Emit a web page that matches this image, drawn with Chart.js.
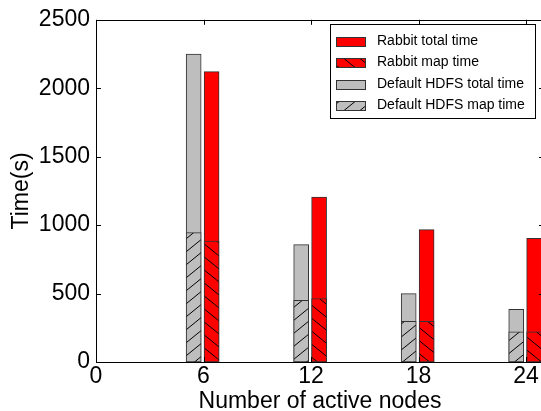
<!DOCTYPE html>
<html>
<head>
<meta charset="utf-8">
<script src="https://cdn.jsdelivr.net/npm/chart.js@4.4.0/dist/chart.umd.min.js"></script>
<style>
  html, body { margin: 0; padding: 0; background: #fff; overflow: hidden; }
  #wrap { width: 541px; height: 411px; overflow: hidden; }
</style>
</head>
<body>
<div id="wrap"><canvas id="timeChart" width="560" height="411"></canvas></div>
<script>
const nodes = [6, 12, 18, 24];
const xTicks = [0, 6, 12, 18, 24];
const yTicks = [0, 500, 1000, 1500, 2000, 2500];
const rabbitTotal = [2121, 1205, 967, 904];
const rabbitMap = [884, 464, 297, 221];
const hdfsTotal = [2250, 858, 500, 384];
const hdfsMap = [945, 450, 297, 221];

const FONT = '"Liberation Sans", Arial, Helvetica, sans-serif';
const GRAY = '#bebebe';
const RED = '#ff0000';

const ctx = document.getElementById('timeChart').getContext('2d');

// hatched fill for the "map time" bars
function hatch(bg, dir) {
  const w = 16, h = 13;
  const c = document.createElement('canvas');
  c.width = w; c.height = h;
  const g = c.getContext('2d');
  g.fillStyle = bg;
  g.fillRect(0, 0, w, h);
  g.strokeStyle = '#000';
  g.lineWidth = 1;
  for (let k = -1; k <= 1; k++) {
    g.beginPath();
    if (dir === '/') { g.moveTo(0, h + h * k); g.lineTo(w, h * k); }
    else { g.moveTo(0, h * k); g.lineTo(w, h + h * k); }
    g.stroke();
  }
  return ctx.createPattern(c, 'repeat');
}

// each group: HDFS bar just left of the tick, Rabbit bar just right
const at = (arr, d) => arr.map((v, i) => ({ x: nodes[i] + d, y: v }));

const barStyle = {
  borderColor: '#333',
  borderWidth: 1,
  borderSkipped: false,
  barThickness: 15,
  grouped: false
};

const frame = {
  id: 'frame',
  afterDatasetsDraw(chart) {
    const { ctx, chartArea: a, scales: { x, y } } = chart;
    ctx.save();
    ctx.strokeStyle = '#000';
    ctx.lineWidth = 1;
    ctx.strokeRect(Math.round(a.left) + 0.5, Math.round(a.top) + 0.5,
      Math.round(a.right - a.left), Math.round(a.bottom - a.top));
    ctx.beginPath();
    xTicks.forEach(v => {
      const px = Math.round(x.getPixelForValue(v)) + 0.5;
      ctx.moveTo(px, a.bottom); ctx.lineTo(px, a.bottom - 5);
      ctx.moveTo(px, a.top); ctx.lineTo(px, a.top + 5);
    });
    yTicks.forEach(v => {
      const py = Math.round(y.getPixelForValue(v)) + 0.5;
      ctx.moveTo(a.left, py); ctx.lineTo(a.left + 5, py);
      ctx.moveTo(a.right, py); ctx.lineTo(a.right - 5, py);
    });
    ctx.stroke();
    ctx.restore();
  }
};

const boxLegend = {
  id: 'boxLegend',
  afterDraw(chart) {
    const c = chart.ctx;
    const ds = chart.data.datasets;
    const order = [3, 1, 2, 0];
    c.save();
    c.fillStyle = '#fff';
    c.strokeStyle = '#000';
    c.lineWidth = 1;
    c.fillRect(330.5, 24.5, 205, 94);
    c.strokeRect(330.5, 24.5, 205, 94);
    c.font = '14px ' + FONT;
    c.textBaseline = 'middle';
    order.forEach((idx, r) => {
      const cy = 41 + r * 21.5;
      c.fillStyle = ds[idx].backgroundColor;
      c.fillRect(336.5, Math.round(cy - 4.5) + 0.5, 29, 9);
      c.strokeStyle = '#333';
      c.strokeRect(336.5, Math.round(cy - 4.5) + 0.5, 29, 9);
      c.fillStyle = '#000';
      c.fillText(ds[idx].label, 377, cy);
    });
    c.restore();
  }
};

new Chart(ctx, {
  type: 'bar',
  data: {
    datasets: [
      { label: 'Default HDFS map time', data: at(hdfsMap, -0.55), backgroundColor: hatch(GRAY, '/'), order: 1, ...barStyle },
      { label: 'Rabbit map time', data: at(rabbitMap, 0.45), backgroundColor: hatch(RED, '\\'), order: 1, ...barStyle },
      { label: 'Default HDFS total time', data: at(hdfsTotal, -0.55), backgroundColor: GRAY, order: 2, ...barStyle },
      { label: 'Rabbit total time', data: at(rabbitTotal, 0.45), backgroundColor: RED, order: 2, ...barStyle }
    ]
  },
  options: {
    responsive: false,
    animation: false,
    layout: { padding: { left: 0, top: 19, right: 16, bottom: 0 } },
    plugins: { legend: { display: false }, tooltip: { enabled: false } },
    scales: {
      x: {
        type: 'linear',
        offset: false,
        min: 0,
        max: 25,
        afterBuildTicks: s => { s.ticks = xTicks.map(v => ({ value: v })); },
        afterFit: s => { s.height = 49; },
        grid: { display: false, drawTicks: false, offset: false },
        border: { display: false },
        ticks: { color: '#000', padding: 1, maxRotation: 0, autoSkip: false, callback: v => String(v), font: { family: FONT, size: 23 } },
        title: { display: true, text: 'Number of active nodes', color: '#000', padding: { top: 0, bottom: 0 }, font: { family: FONT, size: 23, lineHeight: 0.8 } }
      },
      y: {
        min: 0,
        max: 2500,
        afterBuildTicks: s => { s.ticks = yTicks.map(v => ({ value: v })); },
        afterFit: s => { s.width = 96; },
        grid: { display: false, drawTicks: false },
        border: { display: false },
        ticks: { color: '#000', padding: 6, callback: v => String(v), font: { family: FONT, size: 23 } },
        title: { display: true, text: 'Time(s)', color: '#000', padding: { top: 10, bottom: 0 }, font: { family: FONT, size: 23, lineHeight: 1 } }
      }
    }
  },
  plugins: [frame, boxLegend]
});
</script>
</body>
</html>
